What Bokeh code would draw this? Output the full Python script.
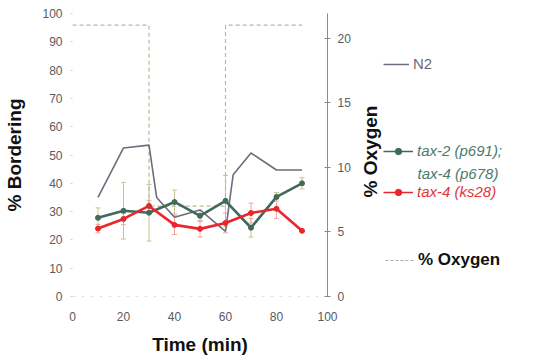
import math
from bokeh.plotting import figure
from bokeh.layouts import row
from bokeh.models import (Range1d, LinearAxis, FixedTicker, Legend, LegendItem,
                          Label, Whisker, ColumnDataSource, TeeHead)
from bokeh.embed import file_html
from bokeh.resources import INLINE

# ---- data ----
time_n2 = [10, 20, 30, 33, 40, 50, 60, 63, 70, 80, 90]
n2 = [35.0, 52.5, 53.5, 35.0, 28.0, 30.6, 23.0, 43.0, 50.7, 44.7, 44.7]

time = [10, 20, 30, 40, 50, 60, 70, 80, 90]
tax2 = [27.8, 30.3, 29.6, 33.4, 28.5, 33.8, 24.3, 35.2, 40.0]
tax2_err = [3.5, 10.0, 10.0, 4.2, 2.0, 9.0, 3.3, 1.5, 2.0]
ks28 = [24.0, 27.4, 32.0, 25.3, 23.9, 26.0, 29.5, 31.0, 23.2]
ks28_err = [1.5, 2.0, 2.0, 3.4, 2.9, 3.5, 3.5, 3.5, 0.0]

o2_time = [0, 30, 30, 60, 60, 90]
o2_level = [21, 21, 7, 7, 21, 21]

left_ticks = [0, 10, 20, 30, 40, 50, 60, 70, 80, 90, 100]
bottom_ticks = [0, 20, 40, 60, 80, 100]
right_ticks = [0, 5, 10, 15, 20]

FONT = "Liberation Sans"
C_N2 = "#716b7c"
C_TAX2 = "#3f6a5d"
C_KS28 = "#e8262c"
C_O2 = "#b9b993"

p = figure(width=355, height=357, output_backend="svg", toolbar_location=None,
           x_range=Range1d(0, 100), y_range=Range1d(0, 100),
           min_border_left=72, min_border_right=28, min_border_top=13,
           min_border_bottom=60)
p.extra_y_ranges = {"o2": Range1d(0, 21.9)}
p.grid.visible = False
p.outline_line_color = None

xa = p.xaxis[0]
xa.ticker = FixedTicker(ticks=bottom_ticks)
xa.axis_label = "Time (min)"
xa.axis_line_color = "#e2e2e2"
xa.axis_line_dash = "3 6"
xa.major_tick_line_color = None
xa.minor_tick_line_color = None
xa.major_label_standoff = 9
xa.axis_label_standoff = 10

ya = p.yaxis[0]
ya.ticker = FixedTicker(ticks=left_ticks)
ya.axis_label = "% Bordering"
ya.axis_line_color = None
ya.major_tick_line_color = "#cfcfcf"
ya.major_tick_in = 0
ya.major_tick_out = 2
ya.minor_tick_line_color = None
ya.major_label_standoff = 8
ya.axis_label_standoff = 14

ra = LinearAxis(y_range_name="o2", ticker=FixedTicker(ticks=right_ticks))
ra.axis_line_color = "#8a8a95"
ra.major_tick_line_color = "#8a8a95"
ra.major_tick_in = 3
ra.major_tick_out = 3
ra.minor_tick_line_color = None
ra.major_label_standoff = 7
p.add_layout(ra, "right")

for ax in (xa, ya, ra):
    ax.major_label_text_font = FONT
    ax.major_label_text_font_size = "12px"
    ax.major_label_text_color = "#5a5a62"
    ax.axis_label_text_font = FONT
    ax.axis_label_text_font_size = "19px"
    ax.axis_label_text_font_style = "bold"
    ax.axis_label_text_color = "#111111"

# oxygen trace
p.line(o2_time, o2_level, y_range_name="o2", line_color=C_O2,
       line_width=1.2, line_dash="4 3")

# error bars
src_t = ColumnDataSource(dict(t=time, lo=[v - e for v, e in zip(tax2, tax2_err)],
                              hi=[v + e for v, e in zip(tax2, tax2_err)]))
src_k = ColumnDataSource(dict(t=time, lo=[v - e for v, e in zip(ks28, ks28_err)],
                              hi=[v + e for v, e in zip(ks28, ks28_err)]))
for src, col in ((src_t, "#c8c48e"), (src_k, "#f2a6a0")):
    p.add_layout(Whisker(source=src, base="t", lower="lo", upper="hi",
                         line_color=col, line_width=1,
                         upper_head=TeeHead(size=5, line_color=col, line_width=1),
                         lower_head=TeeHead(size=5, line_color=col, line_width=1)))

# series
p.line(time_n2, n2, line_color=C_N2, line_width=1.6)
p.line(time, tax2, line_color=C_TAX2, line_width=2.6)
p.scatter(time, tax2, size=5, color=C_TAX2)
p.line(time, ks28, line_color=C_KS28, line_width=2.6)
p.scatter(time, ks28, size=5, color=C_KS28)

# ---- legend panel (same series drawn off-range, used only for swatches) ----
lg = figure(width=178, height=357, output_backend="svg", toolbar_location=None,
            x_range=Range1d(1000, 1001), y_range=Range1d(0, 1), min_border=0,
            x_axis_type=None, y_axis_type=None)
lg.grid.visible = False
lg.outline_line_color = None

l_n2 = lg.line(time_n2, n2, line_color=C_N2, line_width=1.5)
l_t = [lg.line(time, tax2, line_color=C_TAX2, line_width=1.5),
       lg.scatter(time, tax2, size=3, color=C_TAX2)]
l_k = [lg.line(time, ks28, line_color=C_KS28, line_width=1.5),
       lg.scatter(time, ks28, size=3, color=C_KS28)]
l_o2 = lg.line(o2_time, o2_level, line_color="#9fb0b0", line_width=1.2,
               line_dash="3 2")


def add_leg(label, renderers, loc, color, style="normal", size="15px", gw=26):
    leg = Legend(items=[LegendItem(label=label, renderers=renderers)],
                 location=loc, padding=0, margin=0, spacing=0,
                 border_line_alpha=0, background_fill_alpha=0,
                 glyph_width=gw, glyph_height=16, label_height=16,
                 label_standoff=4, label_text_font=FONT,
                 label_text_font_size=size, label_text_color=color,
                 label_text_font_style=style)
    lg.add_layout(leg)


add_leg("N2", [l_n2], (28, 224), "#6b6b72", gw=26)
add_leg("tax-2 (p691);", l_t, (28, 137), "#4d7a6d", "italic", gw=30)
add_leg("tax-4 (ks28)", l_k, (28, 96), "#e2363c", "italic", gw=30)
add_leg("% Oxygen", [l_o2], (30, 26), "#111111", "bold", "17px", gw=29)
lg.add_layout(Label(x=62, y=123, x_units="screen", y_units="screen",
                    text="tax-4 (p678)", text_font=FONT, text_font_size="15px",
                    text_font_style="italic", text_color="#4d7a6d",
                    text_baseline="middle"))
# right axis title
lg.add_layout(Label(x=15, y=145, x_units="screen", y_units="screen",
                    text="% Oxygen", angle=math.pi / 2, text_font=FONT,
                    text_font_size="19px", text_font_style="bold",
                    text_color="#111111", text_align="center",
                    text_baseline="middle"))

layout = row(p, lg)
open("out.html", "w").write(file_html(layout, INLINE))
